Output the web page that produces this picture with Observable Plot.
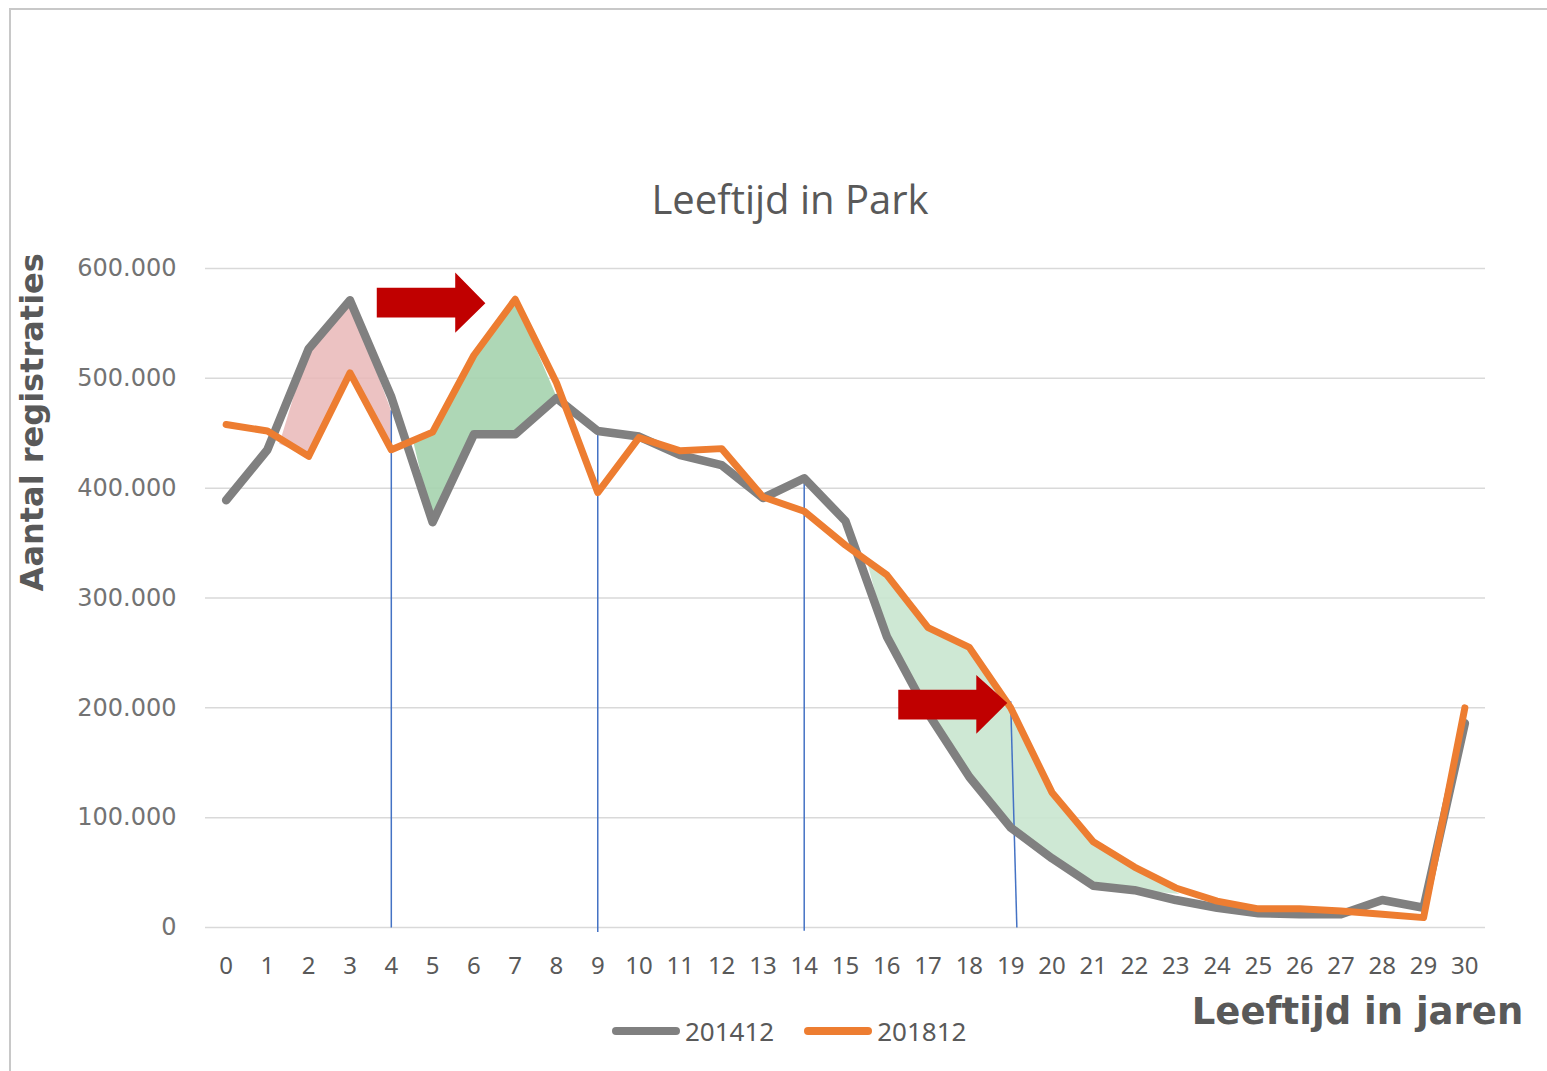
<!DOCTYPE html>
<html>
<head>
<meta charset="utf-8">
<script src="https://cdn.jsdelivr.net/npm/d3@7"></script>
<script src="https://cdn.jsdelivr.net/npm/@observablehq/plot@0.6"></script>
<style>
  html, body { margin: 0; padding: 0; background: #fff; }
  #wrap { position: relative; width: 1547px; height: 1071px; overflow: hidden; }
  #frame { position: absolute; left: 9px; top: 8px; width: 1560px; height: 1080px; border-top: 2px solid #c8c8c8; border-left: 2px solid #c8c8c8; box-sizing: border-box; }
  #title { position: absolute; left: 0; width: 1580px; top: 171px; text-align: center; font-family: "Open Sans", sans-serif; font-size: 40px; color: #595959; }
  #chart { position: absolute; left: 0; top: 0; }
  #legend { position: absolute; top: 1013px; left: 612px; font-family: "Noto Sans", sans-serif; font-size: 26px; color: #595959; display: flex; align-items: center; }
  #legend .sw { display: inline-block; width: 68px; height: 8px; border-radius: 4px; margin-right: 5px; }
  #legend .item { display: flex; align-items: center; margin-right: 30px; }
</style>
</head>
<body>
<div id="wrap">
  <div id="frame"></div>
  <div id="chart"></div>
  <div id="title">Leeftijd in Park</div>
  <div id="legend"></div>
</div>
<script>
// ---- data (values in thousands) ----
const ages = [0,1,2,3,4,5,6,7,8,9,10,11,12,13,14,15,16,17,18,19,20,21,22,23,24,25,26,27,28,29,30];
const series201412 = [389,435,527,571,483,369,449,449,482,452,447,430,421,391,409,370,265,195,137,91,63,38,34,25,18,13,12,12,25,18,186];
const series201812 = [458,452,429,505,435,451,521,572,496,396,446,434,436,392,379,348,321,273,255,200,123,78,55,36,24,17,17,15,12,9,200];
const seriesNames = ["201412", "201812"];
const seriesColors = ["#808080", "#ED7D31"];
const yTicks = [0,100,200,300,400,500,600];

// shaded difference regions
const pinkX    = [1.3, 2, 3, 4];
const pinkLow  = [440, 429, 505, 437];
const pinkHigh = [440, 527, 571, 471];
const green1X    = [4.55, 5, 6, 7, 8];
const green1Low  = [441, 369, 449, 449, 484];
const green1High = [441, 451, 521, 572, 484];
const green2X    = [15.5, 16, 17, 18, 19, 20, 21, 22, 23.1];
const green2Low  = [338, 265, 195, 137, 91, 63, 38, 34, 30];
const green2High = [338, 321, 273, 255, 200, 123, 78, 55, 30];

// blue marker lines
const markerX1 = [4, 9, 14, 19];
const markerX2 = [4, 9, 14, 19.15];
const markerTop = [471, 452, 409, 206];
const markerBottom = [0, -4, -3, 0];

// red block arrows
const arrow1X = [3.66, 5.56, 5.56, 6.29];
const arrow1Low = [555, 555, 541, 568];
const arrow1High = [582, 582, 596, 568];
const arrow2X = [16.29, 18.18, 18.18, 18.93];
const arrow2Low = [189, 189, 176, 204];
const arrow2High = [216, 216, 229.5, 204];

// ---- tables built from the arrays ----
const rows = ages.map((a, i) => ({age: a, v1: series201412[i], v2: series201812[i]}));
const band = (xs, lo, hi) => xs.map((x, i) => ({x, lo: lo[i], hi: hi[i]}));
const markers = markerX1.map((x, i) => ({x1: x, x2: markerX2[i], top: markerTop[i], bottom: markerBottom[i]}));
const fmt = d => d === 0 ? "0" : d3.format(",.0f")(d * 1000).replace(/,/g, ".");

const chart = Plot.plot({
  width: 1547,
  height: 1071,
  marginLeft: 205,
  marginRight: 62,
  marginTop: 268,
  marginBottom: 144,
  x: {domain: [-0.5, 30.5]},
  y: {domain: [0, 600]},
  style: {background: "transparent", color: "#595959"},
  marks: [
    Plot.ruleY(yTicks, {stroke: "#d9d9d9", strokeWidth: 1.5}),
    Plot.areaY(band(pinkX, pinkLow, pinkHigh), {x: "x", y1: "lo", y2: "hi", fill: "#e9b7b7", fillOpacity: 0.85}),
    Plot.areaY(band(green1X, green1Low, green1High), {x: "x", y1: "lo", y2: "hi", fill: "#a5d3ae", fillOpacity: 0.9}),
    Plot.areaY(band(green2X, green2Low, green2High), {x: "x", y1: "lo", y2: "hi", fill: "#c9e5cf", fillOpacity: 0.9}),
    Plot.link(markers, {x1: "x1", x2: "x2", y1: "top", y2: "bottom", stroke: "#4472C4", strokeWidth: 1.5}),
    Plot.line(rows, {x: "age", y: "v1", stroke: seriesColors[0], strokeWidth: 8.5, strokeLinejoin: "round", strokeLinecap: "round"}),
    Plot.line(rows, {x: "age", y: "v2", stroke: seriesColors[1], strokeWidth: 7, strokeLinejoin: "round", strokeLinecap: "round"}),
    Plot.areaY(band(arrow1X, arrow1Low, arrow1High), {x: "x", y1: "lo", y2: "hi", fill: "#C00000"}),
    Plot.areaY(band(arrow2X, arrow2Low, arrow2High), {x: "x", y1: "lo", y2: "hi", fill: "#C00000"}),
    Plot.axisX({ticks: ages, tickSize: 0, tickPadding: 29, tickFormat: d => String(d), fontSize: 24, fontFamily: "Noto Sans", fill: "#595959", label: null}),
    Plot.axisY({ticks: yTicks, tickSize: 0, tickPadding: 29, tickFormat: fmt, fontSize: 24, fontFamily: "DejaVu Sans", fill: "#737373", label: null}),
    Plot.text(["Aantal registraties"], {frameAnchor: "left", y: [460], dx: -173, rotate: -90, textAnchor: "middle", fontSize: 32, fontWeight: "bold", fontFamily: "DejaVu Sans", fill: "#595959"}),
    Plot.text(["Leeftijd in jaren"], {frameAnchor: "bottom", x: [27.4], dy: 96, textAnchor: "middle", fontSize: 37, fontWeight: "bold", fontFamily: "DejaVu Sans", fill: "#595959"})
  ]
});
document.getElementById("chart").appendChild(chart);

const legend = document.getElementById("legend");
seriesNames.forEach((name, i) => {
  const item = document.createElement("div");
  item.className = "item";
  item.innerHTML = `<span class="sw" style="background:${seriesColors[i]}"></span><span>${name}</span>`;
  legend.appendChild(item);
});
</script>
</body>
</html>
